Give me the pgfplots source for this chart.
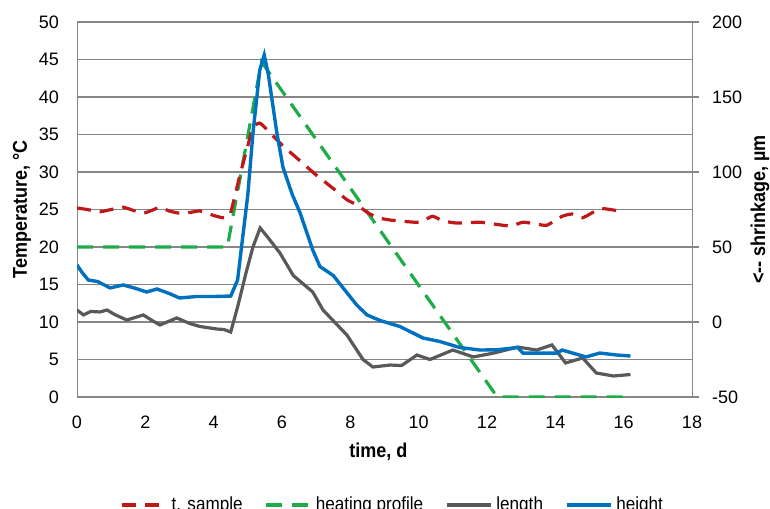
\documentclass[border=0pt]{standalone}
\usepackage{fontspec}
\setmainfont{Liberation Sans}
\newfontfamily\narrowfont{Liberation Sans}[FakeStretch=0.9]
\usepackage{pgfplots}
\pgfplotsset{compat=1.18}
\usetikzlibrary{calc}
\definecolor{tred}{RGB}{192,24,24}
\definecolor{hgreen}{RGB}{30,172,72}
\definecolor{lgray}{RGB}{89,89,89}
\definecolor{hblue}{RGB}{0,112,192}
\definecolor{gridc}{RGB}{134,134,134}

\begin{document}
\begin{tikzpicture}
\pgfplotsset{
  every axis/.append style={
    scale only axis, width=307.5pt, height=187.5pt,
    xmin=0, xmax=18,
    /pgf/number format/assume math mode=true,
    tick label style={font=\fontsize{9}{10}\selectfont},
    label style={font=\narrowfont\bfseries\fontsize{10}{12}\selectfont},
  },
  tsample/.style={tred, line width=1.6pt, dash pattern=on 7pt off 4.5pt},
  heating/.style={hgreen, line width=1.6pt, dash pattern=on 8pt off 5pt},
}
% left axis: temperatures
\begin{axis}[
  name=main,
  axis x line=bottom, axis y line=left, axis line style={gridc, -},
  ymin=0, ymax=50, ytick distance=5, xtick distance=2,
  major tick length=0pt,
  ymajorgrids, grid style={gridc, line width=0.6pt},
  yticklabel style={xshift=-5.5pt},
  xticklabel style={yshift=-6pt},
  xlabel={time, d}, ylabel={Temperature, °C},
  xlabel style={at={(axis description cs:0.49,-0.1467)}, anchor=center},
  ylabel style={at={(axis description cs:-0.0894,0.5)}, anchor=center},
]
\addplot[heating] coordinates {
(0,20)(4.4,20)(5.4,44.7)(12.3,0)(16.1,0)
};
\addplot[tsample, smooth, tension=0.3] coordinates {
(0,25.2)(0.3,25.0)(0.67,24.7)(1.0,25.0)(1.35,25.3)(1.7,24.8)(1.94,24.5)
(2.2,24.9)(2.43,25.3)(2.7,24.8)(3.0,24.5)(3.3,24.6)(3.6,24.8)(4.0,24.2)
(4.28,23.9)(4.48,24.3)(4.77,29.6)(5.0,33.5)(5.15,36.0)(5.36,36.5)(5.7,35.0)
(6.0,33.6)(6.5,31.6)(7.0,29.6)(7.5,27.8)(7.9,26.3)(8.2,25.6)(8.5,24.6)
(8.8,23.9)(9.16,23.6)(9.6,23.4)(10.04,23.3)(10.4,24.1)(10.7,23.5)(11.1,23.2)
(11.8,23.3)(12.3,23.0)(12.7,22.8)(13.05,23.3)(13.4,23.1)(13.75,22.9)
(14.2,24.1)(14.5,24.4)(14.8,23.9)(15.3,25.1)(15.6,25.0)(16.0,24.7)
};
\end{axis}
% right axis: shrinkage
\begin{axis}[
  axis x line=none, axis y line*=right, axis line style={gridc, -},
  ymin=-50, ymax=200, ytick distance=50,
  major tick length=3.5pt, tick align=outside, tick style={gridc, line width=0.6pt},
  yticklabel style={xshift=3pt},
  ylabel={\textless-{}- shrinkage, µm},
  ylabel style={at={(axis description cs:1.1106,0.5)}, anchor=center},
  legend style={at={(axis description cs:0.515,-0.288)}, anchor=center,
    legend columns=4, draw=none, fill=none,
    font=\narrowfont\fontsize{9.5}{10}\selectfont,
    /tikz/every even column/.append style={column sep=9pt}},
  legend image code/.code={\draw[#1] (0pt,0pt) -- (22pt,0pt);},
]
\addlegendimage{tsample}
\addlegendimage{heating}
\addplot[lgray, line width=1.6pt] coordinates {
(0,8)(0.19,4.7)(0.4,7)(0.67,6.7)(0.88,8)(1.1,5)(1.46,1.3)(1.94,4.7)(2.2,1)
(2.43,-2)(2.92,2.7)(3.3,-1)(3.6,-3)(4.1,-4.7)(4.3,-5)(4.5,-6.7)(4.7,10)
(4.95,33)(5.15,50)(5.36,62.7)(5.6,56)(5.94,46)(6.33,31)(6.9,20)(7.2,8)
(7.9,-8.7)(8.37,-25)(8.66,-30)(9.16,-28.7)(9.5,-29)(9.95,-22)(10.33,-25)
(11.0,-18.7)(11.6,-23.3)(12.2,-20.7)(12.9,-16.7)(13.45,-18.7)(13.9,-15.3)
(14.3,-27.3)(14.8,-24)(15.2,-34)(15.7,-36)(16.2,-35)
};
\addplot[hblue, line width=1.7pt] coordinates {
(0,38)(0.15,33)(0.33,28)(0.6,27)(0.97,22.7)(1.35,24.7)(1.7,22.5)(2.04,20)
(2.34,22)(2.7,19)(3.0,16)(3.5,17)(4.0,17)(4.5,17.3)(4.7,28)(5.0,85)
(5.15,126)(5.35,168)(5.48,178)(5.6,165)(5.85,126)(6.03,103)(6.3,85)
(6.53,72.7)(6.9,48)(7.11,37)(7.5,31)(7.9,19.5)(8.2,11)(8.49,4.7)(8.87,1)
(9.45,-3)(10.13,-10.7)(10.62,-13)(11.2,-17)(11.8,-18.7)(12.3,-18.5)
(12.9,-17)(13.05,-20.7)(14.05,-20.7)(14.2,-18.7)(14.9,-23.3)(15.3,-20.7)
(15.8,-22)(16.2,-22.7)
};
\legend{t. sample, heating profile, length, height}
\end{axis}
\pgfresetboundingbox
\path ($(main.south west)+(-38.5pt,-55.5pt)$) rectangle ($(main.south west)+(346.5pt,198.5pt)$);
\end{tikzpicture}
\end{document}
